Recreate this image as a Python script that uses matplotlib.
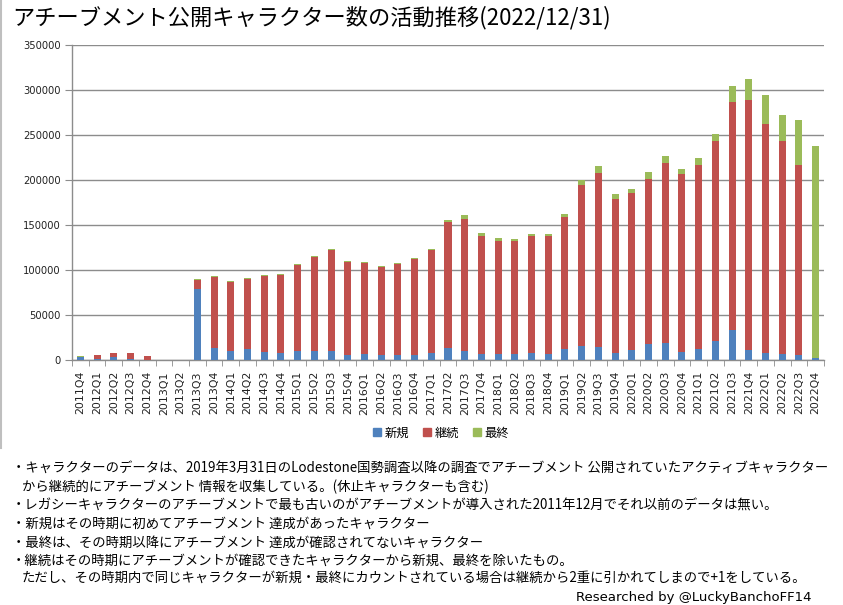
import numpy as np
import matplotlib
matplotlib.use("Agg")
import matplotlib.pyplot as plt
from matplotlib.lines import Line2D

plt.rcParams['font.family'] = ['Noto Sans CJK JP', 'DejaVu Sans']

# =========================
# Data
# =========================
quarters = [f"{y}Q{q}" for y in range(2011, 2023) for q in range(1, 5)][3:]

new_chars = [3800, 1500, 3000, 1500, 400, 0, 0, 78500,
             13300, 10000, 12600, 9300, 8100, 9600, 9600, 9600,
             5900, 7000, 5600, 5600, 5900, 8100, 13300, 9600,
             7000, 7000, 7000, 7800, 7000, 11900, 15600, 14800,
             8100, 11500, 17800, 19300, 9300, 12600, 20700, 33700,
             11500, 7800, 7000, 5600, 1900]
cont_chars = [0, 4400, 4800, 6600, 4400, 0, 0, 10500,
              78600, 76700, 77400, 84000, 86300, 96000, 104500, 112300,
              102600, 100800, 97700, 101100, 106700, 114100, 139700, 147400,
              130800, 125600, 124900, 130000, 130800, 146600, 178500, 193000,
              171200, 173700, 183700, 199200, 197000, 204500, 223000, 252600,
              277400, 254800, 236000, 211500, 0]
final_chars = [200, 0, 0, 0, 0, 0, 0, 600,
               1400, 1400, 1100, 1500, 1500, 1400, 1500, 1400,
               1500, 1500, 800, 1100, 1100, 1100, 2200, 4500,
               2900, 3300, 2600, 2600, 2600, 3400, 5500, 8100,
               4800, 5200, 7000, 7800, 5600, 7400, 7800, 18500,
               23400, 32200, 29600, 50000, 235500]

series_names = ["新規", "継続", "最終"]
colors = ["#4F81BD", "#C0504D", "#9BBB59"]

title = "アチーブメント公開キャラクター数の活動推移(2022/12/31)"
notes = [
    ("・キャラクターのデータは、2019年3月31日のLodestone国勢調査以降の調査でアチーブメント 公開されていたアクティブキャラクター", 12),
    ("から継続的にアチーブメント 情報を収集している。(休止キャラクターも含む)", 22),
    ("・レガシーキャラクターのアチーブメントで最も古いのがアチーブメントが導入された2011年12月でそれ以前のデータは無い。", 12),
    ("・新規はその時期に初めてアチーブメント 達成があったキャラクター", 12),
    ("・最終は、その時期以降にアチーブメント 達成が確認されてないキャラクター", 12),
    ("・継続はその時期にアチーブメントが確認できたキャラクターから新規、最終を除いたもの。", 12),
    ("ただし、その時期内で同じキャラクターが新規・最終にカウントされている場合は継続から2重に引かれてしまので+1をしている。", 22),
]
note_y = [468, 487, 506, 524, 543, 561, 578]

# =========================
# Figure
# =========================
W, H = 843, 605
fig = plt.figure(figsize=(W / 100, H / 100), dpi=100)
ax = fig.add_axes([72 / W, 1 - 360 / H, (824 - 72) / W, (360 - 45) / H])

x = np.arange(len(quarters))
bw = 0.42
bottom = np.zeros(len(quarters))
for vals, name, c in zip([new_chars, cont_chars, final_chars], series_names, colors):
    vals = np.array(vals)
    ax.bar(x, vals, bw, bottom=bottom, color=c, label=name, zorder=3)
    bottom += vals

ax.set_xlim(-0.5, len(quarters) - 0.5)
ax.set_ylim(0, 350000)
ax.set_yticks(np.arange(0, 350001, 50000))
ax.yaxis.grid(True, color="#8c8c8c", linewidth=1.0, zorder=0)
ax.set_axisbelow(True)

for s in ["top", "right"]:
    ax.spines[s].set_visible(False)
for s in ["left", "bottom"]:
    ax.spines[s].set_color("#8c8c8c")
    ax.spines[s].set_linewidth(1.0)

ax.tick_params(axis="y", length=5, color="#8c8c8c", labelsize=7.2, pad=3,
               labelcolor="#222222")
for lab in ax.get_yticklabels():
    lab.set_fontfamily("DejaVu Sans")

ax.set_xticks(x)
ax.set_xticklabels(quarters, rotation=90, fontsize=7.9, fontfamily="DejaVu Sans",
                   color="#222222")
ax.tick_params(axis="x", which="major", length=0, pad=8)
ax.set_xticks(np.arange(-0.5, len(quarters), 1), minor=True)
ax.tick_params(axis="x", which="minor", length=4, color="#8c8c8c")

handles = [Line2D([], [], marker="s", linestyle="", color=c, markersize=6)
           for c in colors]
fig.legend(handles, series_names, loc="center", bbox_to_anchor=(440 / W, 1 - 433 / H),
           ncol=3, frameon=False, fontsize=8.8, handletextpad=0.1,
           columnspacing=1.0, handlelength=1.0)

fig.text(12 / W, 1 - 18 / H, title, fontsize=16, va="center", ha="left")

for (txt, xp), yp in zip(notes, note_y):
    fig.text(xp / W, 1 - yp / H, txt, fontsize=9.6, va="center", ha="left")
fig.text(812 / W, 1 - 597 / H, "Researched by @LuckyBanchoFF14", fontsize=9.5,
         va="center", ha="right", fontfamily="DejaVu Sans")

# chart frame line on the left
fig.add_artist(Line2D([1 / W, 1 / W], [1 - 448 / H, 1], color="#bfbfbf", linewidth=1.5))

fig.savefig("out.png", dpi=100)
